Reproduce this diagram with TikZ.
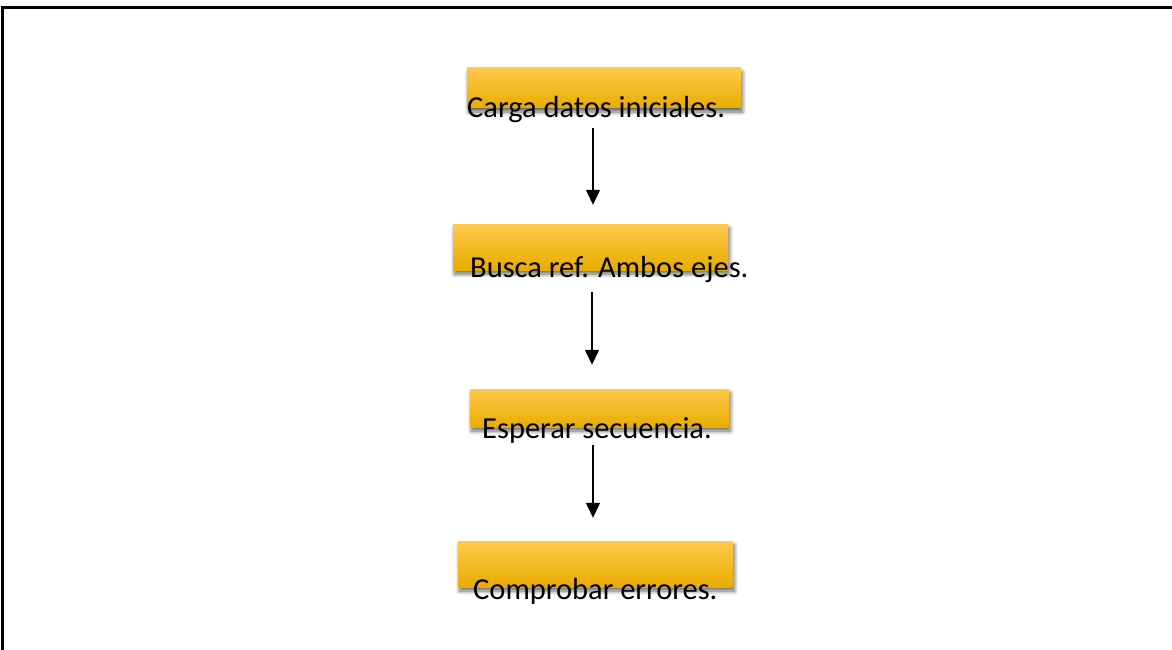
\documentclass[tikz,border=0pt]{standalone}
\usepackage{fontspec}
\setmainfont{Carlito}
\usetikzlibrary{arrows.meta, shadows.blur}
\definecolor{boxtop}{RGB}{255, 202, 76}
\definecolor{boxmid}{RGB}{255, 196, 0}
\definecolor{boxbot}{RGB}{232, 172, 0}
\tikzset{
  stepbox/.style={inner sep=0pt, top color=boxtop, middle color=boxmid, bottom color=boxbot,
                  blur shadow={shadow xshift=1.5pt, shadow yshift=-4pt, shadow blur radius=4pt,
                  shadow blur steps=8, shadow opacity=60}},
  steptext/.style={anchor=base west, inner sep=0pt, font=\fontsize{30.5}{36}\selectfont},
  flow/.style={-{Triangle[length=15pt, width=14pt]}, line width=1.3pt},
}

\begin{document}
\begin{tikzpicture}[x=1pt, y=-1pt]
  \useasboundingbox (0,0) rectangle (1172,650);
  % frame
  \draw[line width=3pt] (2.5,650) -- (2.5,7.5) -- (1172,7.5);

  \node[stepbox, minimum width=274pt, minimum height=40pt] (carga) at (604,88) {};
  \node[steptext] (cargatxt) at (467,118) {Carga datos iniciales.};

  \node[stepbox, minimum width=275pt, minimum height=46pt] (busca) at (590.5,247) {};
  \node[steptext] (buscatxt) at (470,277) {Busca ref. Ambos ejes.};

  \node[stepbox, minimum width=259pt, minimum height=38pt] (espera) at (599.5,408) {};
  \node[steptext] (esperatxt) at (482,438) {Esperar secuencia.};

  \node[stepbox, minimum width=275pt, minimum height=46pt] (comprueba) at (595.5,564) {};
  \node[steptext] (compruebatxt) at (473,599) {Comprobar errores.};

  \draw[flow, shorten <=4.5pt, shorten >=19pt] (cargatxt.south -| 593,0) -- (busca.north -| 593,0);
  \draw[flow, shorten <=9.5pt, shorten >=24pt] (buscatxt.south -| 592,0) -- (espera.north -| 592,0);
  \draw[flow, shorten <=1.5pt, shorten >=23pt] (esperatxt.south -| 593,0) -- (comprueba.north -| 593,0);
\end{tikzpicture}
\end{document}
